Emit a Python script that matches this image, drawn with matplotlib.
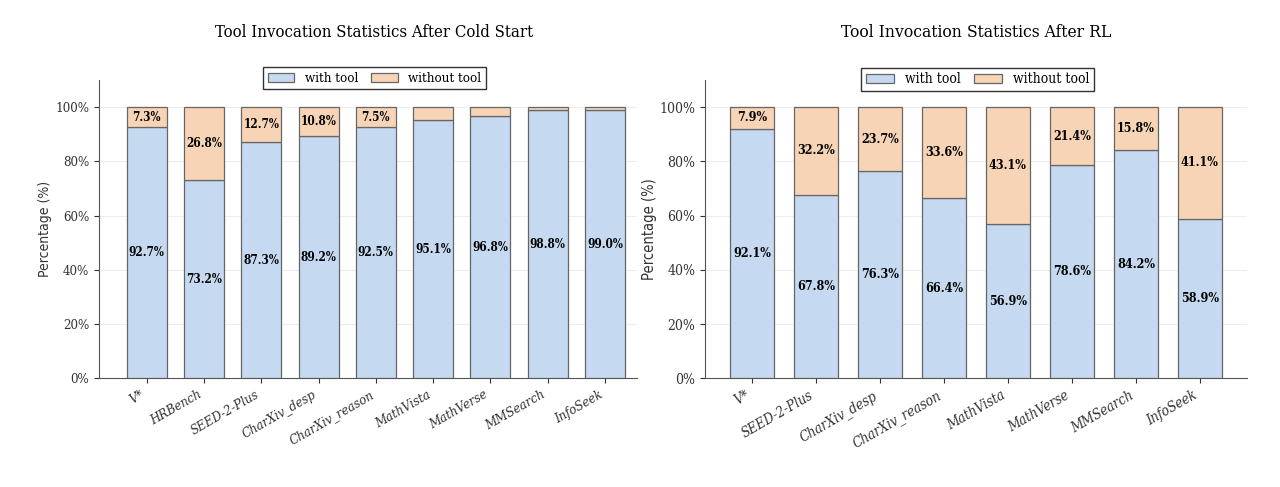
import matplotlib
matplotlib.use("Agg")
import matplotlib.pyplot as plt
from matplotlib.ticker import PercentFormatter

# Tool usage after cold start (percent of samples)
cold_names = ["V*", "HRBench", "SEED-2-Plus", "CharXiv_desp", "CharXiv_reason",
              "MathVista", "MathVerse", "MMSearch", "InfoSeek"]
cold_with = [92.7, 73.2, 87.3, 89.2, 92.5, 95.1, 96.8, 98.8, 99.0]
cold_without = [7.3, 26.8, 12.7, 10.8, 7.5, 4.9, 3.2, 1.2, 1.0]

# Tool usage after RL
rl_names = ["V*", "SEED-2-Plus", "CharXiv_desp", "CharXiv_reason",
            "MathVista", "MathVerse", "MMSearch", "InfoSeek"]
rl_with = [92.1, 67.8, 76.3, 66.4, 56.9, 78.6, 84.2, 58.9]
rl_without = [7.9, 32.2, 23.7, 33.6, 43.1, 21.4, 15.8, 41.1]

BLUE = "#c5d9f0"
PEACH = "#f6d4b5"
EDGE = "#666666"

plt.rcParams["font.family"] = ["DejaVu Serif"]
plt.rcParams["font.stretch"] = "condensed"


def draw(ax, names, with_tool, without_tool, title, fs, legend_x):
    x = list(range(len(names)))
    ax.bar(x, with_tool, width=0.7, color=BLUE, edgecolor=EDGE, linewidth=0.9,
           label="with tool", zorder=3)
    ax.bar(x, without_tool, width=0.7, bottom=with_tool, color=PEACH,
           edgecolor=EDGE, linewidth=0.9, label="without tool", zorder=3)

    # value labels in the middle of each segment, skip tiny ones
    for i in x:
        ax.text(i, with_tool[i] / 2, f"{with_tool[i]:.1f}%", ha="center",
                va="center", fontsize=fs - 1, fontweight="bold", zorder=4)
        if without_tool[i] >= 5:
            ax.text(i, with_tool[i] + without_tool[i] / 2, f"{without_tool[i]:.1f}%",
                    ha="center", va="center", fontsize=fs - 1,
                    fontweight="bold", zorder=4)

    ax.set_ylim(0, 110)
    ax.set_yticks([0, 20, 40, 60, 80, 100])
    ax.yaxis.set_major_formatter(PercentFormatter(decimals=0))
    ax.set_xticks(x)
    ax.set_xticklabels(names, rotation=30, ha="right", style="italic",
                       fontsize=fs)
    ax.tick_params(axis="y", labelsize=fs, colors="#333333")
    ax.tick_params(axis="x", colors="#333333")
    ax.set_ylabel("Percentage (%)", family="DejaVu Sans", fontsize=fs + 0.5,
                  color="#333333", labelpad=2)
    ax.grid(axis="y", color="#eeeeee", linewidth=0.8, zorder=0)
    for s in ["top", "right"]:
        ax.spines[s].set_visible(False)
    for s in ["left", "bottom"]:
        ax.spines[s].set_color("#555555")
    ax.set_title(title, fontsize=fs + 2.5, pad=31)
    ax.legend(loc="upper center", bbox_to_anchor=(legend_x, 1.065), ncol=2,
              fontsize=fs, frameon=True, fancybox=False, edgecolor="#333333",
              framealpha=1, borderpad=0.35, handlelength=2.0, columnspacing=1.0)


fig = plt.figure(figsize=(12.8, 4.87), dpi=100)
ax1 = fig.add_axes([0.0773, 0.2228, 0.4203, 0.6129])
ax2 = fig.add_axes([0.5508, 0.2228, 0.4234, 0.6129])

draw(ax1, cold_names, cold_with, cold_without,
     "Tool Invocation Statistics After Cold Start", 9.5, 0.512)
ax1.set_xlim(-0.835, 8.56)
ax1.title.set_x(0.512)
draw(ax2, rl_names, rl_with, rl_without,
     "Tool Invocation Statistics After RL", 10, 0.503)

fig.savefig("out.png", dpi=100)
